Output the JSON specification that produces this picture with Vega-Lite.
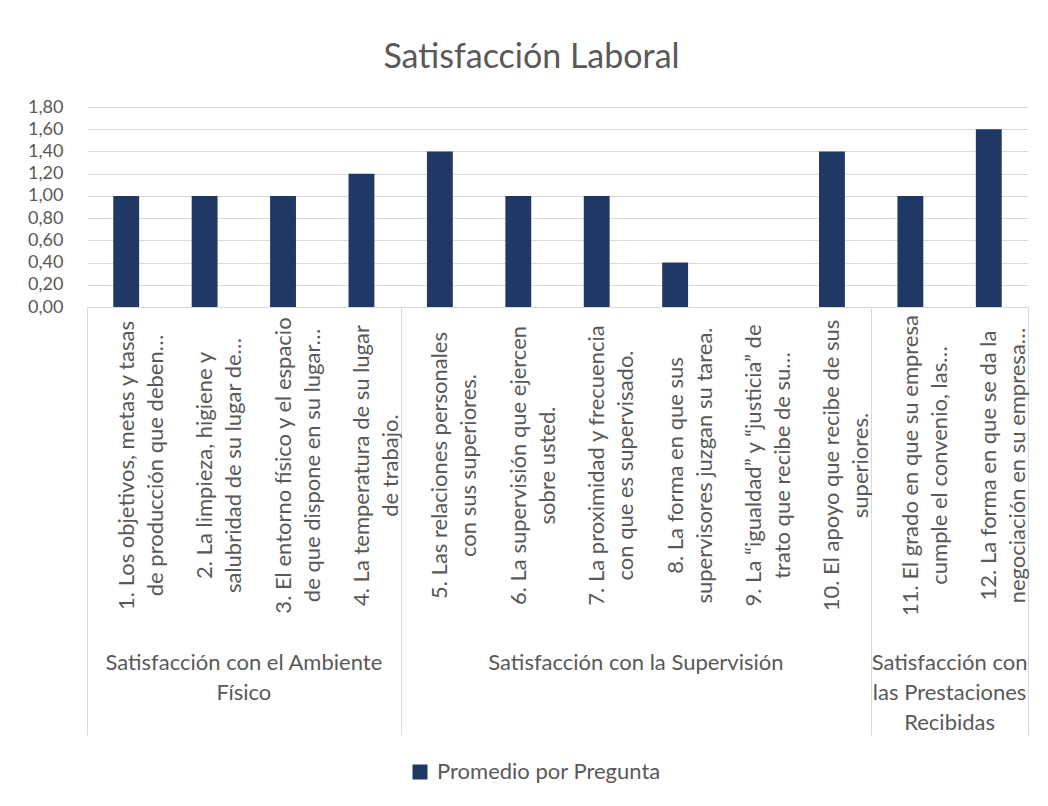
{
  "$schema": "https://vega.github.io/schema/vega-lite/v6.json",
  "width": 941,
  "height": 200,
  "autosize": {"type": "none"},
  "padding": {"left": 87, "top": 107, "right": 20, "bottom": 499},
  "background": "white",
  "title": {"text": "Satisfacción Laboral", "font": "Lato", "fontSize": 34, "fontWeight": "normal", "color": "#595959", "anchor": "middle", "frame": "group", "dx": -26, "offset": -4, "baseline": "alphabetic"},
  "config": {"view": {"stroke": null}, "font": "Lato"},
  "data": {
    "values": [
      {"grupo": "Satisfacción con el Ambiente\nFísico", "pregunta": "1. Los objetivos, metas y tasas\nde producción que deben…", "promedio": 1.0},
      {"grupo": "Satisfacción con el Ambiente\nFísico", "pregunta": "2. La limpieza, higiene y\nsalubridad de su lugar de…", "promedio": 1.0},
      {"grupo": "Satisfacción con el Ambiente\nFísico", "pregunta": "3. El entorno físico y el espacio\nde que dispone en su lugar…", "promedio": 1.0},
      {"grupo": "Satisfacción con el Ambiente\nFísico", "pregunta": "4. La temperatura de su lugar\nde trabajo.", "promedio": 1.2},
      {"grupo": "Satisfacción con la Supervisión", "pregunta": "5. Las relaciones personales\ncon sus superiores.", "promedio": 1.4},
      {"grupo": "Satisfacción con la Supervisión", "pregunta": "6. La supervisión que ejercen\nsobre usted.", "promedio": 1.0},
      {"grupo": "Satisfacción con la Supervisión", "pregunta": "7. La proximidad y frecuencia\ncon que es supervisado.", "promedio": 1.0},
      {"grupo": "Satisfacción con la Supervisión", "pregunta": "8. La forma en que sus\nsupervisores juzgan su tarea.", "promedio": 0.4},
      {"grupo": "Satisfacción con la Supervisión", "pregunta": "9. La “igualdad” y “justicia” de\ntrato que recibe de su…", "promedio": 0},
      {"grupo": "Satisfacción con la Supervisión", "pregunta": "10. El apoyo que recibe de sus\nsuperiores.", "promedio": 1.4},
      {"grupo": "Satisfacción con\nlas Prestaciones\nRecibidas", "pregunta": "11. El grado en que su empresa\ncumple el convenio, las…", "promedio": 1.0},
      {"grupo": "Satisfacción con\nlas Prestaciones\nRecibidas", "pregunta": "12. La forma en que se da la\nnegociación en su empresa…", "promedio": 1.6}
    ]
  },
  "layer": [
    {
      "mark": {"type": "bar", "width": {"band": 0.33}},
      "encoding": {
        "x": {
          "field": "pregunta", "type": "nominal", "sort": null,
          "scale": {"paddingInner": 0, "paddingOuter": 0},
          "axis": {
            "title": null, "grid": false,
            "domainColor": "#d9d9d9", "domainWidth": 1,
            "ticks": true, "tickBand": "extent", "tickSize": 428, "tickColor": "#d9d9d9", "tickWidth": 1,
            "tickOpacity": {"condition": {"test": "datum.extra || datum.index == 1 || indexof(datum.value, '4.') == 0 || indexof(datum.value, '10.') == 0 || indexof(datum.value, '12.') == 0", "value": 1}, "value": 0},
            "labelAngle": -90, "labelAlign": "center", "labelBaseline": "middle",
            "labelPadding": -270,
            "labelExpr": "split(datum.label, '\\n')",
            "labelFont": "Lato", "labelFontSize": 22, "labelColor": "#595959", "labelLineHeight": 29,
            "labelLimit": 400, "labelOverlap": false
          }
        },
        "y": {
          "field": "promedio", "type": "quantitative",
          "scale": {"domain": [0, 1.8], "nice": false},
          "axis": {
            "title": null,
            "values": [0, 0.2, 0.4, 0.6, 0.8, 1, 1.2, 1.4, 1.6, 1.8],
            "tickCount": 10,
            "format": ".2f", "labelExpr": "replace(datum.label, '.', ',')",
            "domain": false, "ticks": false, "grid": true, "gridColor": "#d9d9d9", "gridWidth": 1,
            "labelFont": "Lato", "labelFontSize": 18, "labelColor": "#595959", "labelPadding": 24,
            "labelOverlap": false, "labelFlush": false
          }
        },
        "color": {
          "datum": "Promedio por Pregunta", "type": "nominal",
          "scale": {"range": ["#203864"]},
          "legend": {
            "title": null, "orient": "none", "legendX": 322, "legendY": 654,
            "symbolType": "square", "symbolSize": 225, "symbolStrokeWidth": 0,
            "labelFont": "Lato", "labelFontSize": 22, "labelColor": "#595959", "labelOffset": 6, "labelLimit": 400, "padding": 0
          }
        }
      }
    },
    {
      "transform": [{"filter": "indexof(datum.pregunta, '3.') == 0 || indexof(datum.pregunta, '8.') == 0 || indexof(datum.pregunta, '12.') == 0"}],
      "mark": {"type": "text", "lineBreak": "\n", "font": "Lato", "fontSize": 22, "color": "#595959", "lineHeight": 30, "baseline": "alphabetic", "align": "center"},
      "encoding": {
        "x": {"field": "pregunta", "type": "nominal", "sort": null, "bandPosition": 0},
        "y": {
          "datum": -3.267, "type": "quantitative",
          "axis": {
            "title": null,
            "values": [0, 0.2, 0.4, 0.6, 0.8, 1, 1.2, 1.4, 1.6, 1.8],
            "tickCount": 10,
            "format": ".2f", "labelExpr": "replace(datum.label, '.', ',')",
            "domain": false, "ticks": false, "grid": true, "gridColor": "#d9d9d9", "gridWidth": 1,
            "labelFont": "Lato", "labelFontSize": 18, "labelColor": "#595959", "labelPadding": 24,
            "labelOverlap": false, "labelFlush": false
          }
        },
        "text": {"field": "grupo"}
      }
    }
  ]
}
